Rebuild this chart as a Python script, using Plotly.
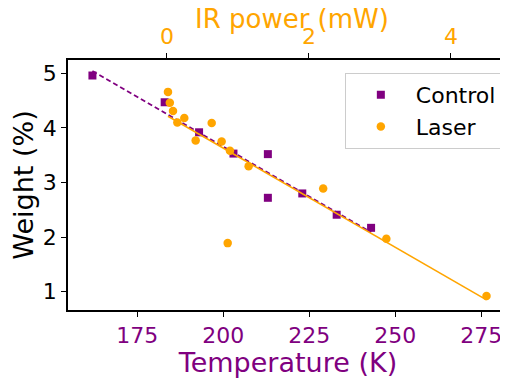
import numpy as np
import plotly.graph_objects as go

# Control data: temperature (K) vs weight (%)
control_temp = [162, 183, 193, 203, 213, 213, 223, 233, 243]
control_weight = [4.96, 4.47, 3.92, 3.53, 3.52, 2.72, 2.80, 2.41, 2.17]

# Laser data: IR power (mW) vs weight (%)
laser_power = [0.014, 0.04, 0.085, 0.146, 0.244, 0.404, 0.63, 0.77, 0.887, 0.855, 1.15, 2.20, 3.09, 4.50]
laser_weight = [4.66, 4.46, 4.31, 4.10, 4.18, 3.77, 4.09, 3.75, 3.58, 1.89, 3.30, 2.89, 1.97, 0.92]

temp_ticks = [175, 200, 225, 250, 275]
power_ticks = [0, 2, 4]
weight_ticks = [1, 2, 3, 4, 5]

PURPLE = "#800080"
ORANGE = "#FFA500"
FONT = "DejaVu Sans"

# linear fits
cT = np.array(control_temp, float)
cW = np.array(control_weight, float)
cp = np.polyfit(cT, cW, 1)
cfit_x = np.array([cT.min(), cT.max()])
cfit_y = np.polyval(cp, cfit_x)

lP = np.array(laser_power, float)
lW = np.array(laser_weight, float)
lp = np.polyfit(lP, lW, 1)
lfit_x = np.array([lP.min(), lP.max()])
lfit_y = np.polyval(lp, lfit_x)

fig = go.Figure()
fig.add_trace(go.Scatter(x=cfit_x, y=cfit_y, mode="lines", showlegend=False,
                         line=dict(color=PURPLE, width=1.8, dash="5px,3px"), xaxis="x", yaxis="y"))
fig.add_trace(go.Scatter(x=lfit_x, y=lfit_y, mode="lines", showlegend=False,
                         line=dict(color=ORANGE, width=1.6), xaxis="x2", yaxis="y"))
fig.add_trace(go.Scatter(x=control_temp, y=control_weight, mode="markers", name="Control",
                         marker=dict(symbol="square", color=PURPLE, size=8), xaxis="x", yaxis="y"))
fig.add_trace(go.Scatter(x=laser_power, y=laser_weight, mode="markers", name="Laser",
                         marker=dict(symbol="circle", color=ORANGE, size=8.5), xaxis="x2", yaxis="y"))

axis_common = dict(showgrid=False, zeroline=False, showline=True, linecolor="black", linewidth=1.5,
                   ticks="outside", ticklen=5, tickwidth=1.2, tickcolor="black", automargin=False)

fig.update_layout(
    width=500, height=370,
    margin=dict(l=60, r=0, t=52, b=68),
    paper_bgcolor="white", plot_bgcolor="white",
    font=dict(family=FONT, size=22, color="black"),
    xaxis=dict(range=[154.9, 282.8], tickvals=temp_ticks,
               tickfont=dict(color=PURPLE, size=22),
               title=dict(text="Temperature (K)", font=dict(color=PURPLE, size=27), standoff=0),
               **axis_common),
    xaxis2=dict(range=[-1.394, 4.803], tickvals=power_ticks, overlaying="x", side="top", anchor="y",
                tickfont=dict(color=ORANGE, size=22),
                **axis_common),
    yaxis=dict(range=[0.665, 5.244], tickvals=weight_ticks,
               tickfont=dict(color="black", size=22),
               title=dict(text="Weight (%)", font=dict(color="black", size=27), standoff=4),
               **axis_common),
    legend=dict(x=0.986, y=0.948, xanchor="right", yanchor="top",
                bgcolor="rgba(255,255,255,0.8)", bordercolor="#cccccc", borderwidth=1,
                font=dict(family=FONT, size=22, color="black"), itemwidth=60,
                tracegroupgap=0),
    annotations=[dict(text="IR power (mW)", xref="paper", yref="paper", x=0.508, y=1.164,
                      xanchor="center", yanchor="middle", showarrow=False,
                      font=dict(family=FONT, size=26, color=ORANGE))],
)

fig.write_html("out.html")
